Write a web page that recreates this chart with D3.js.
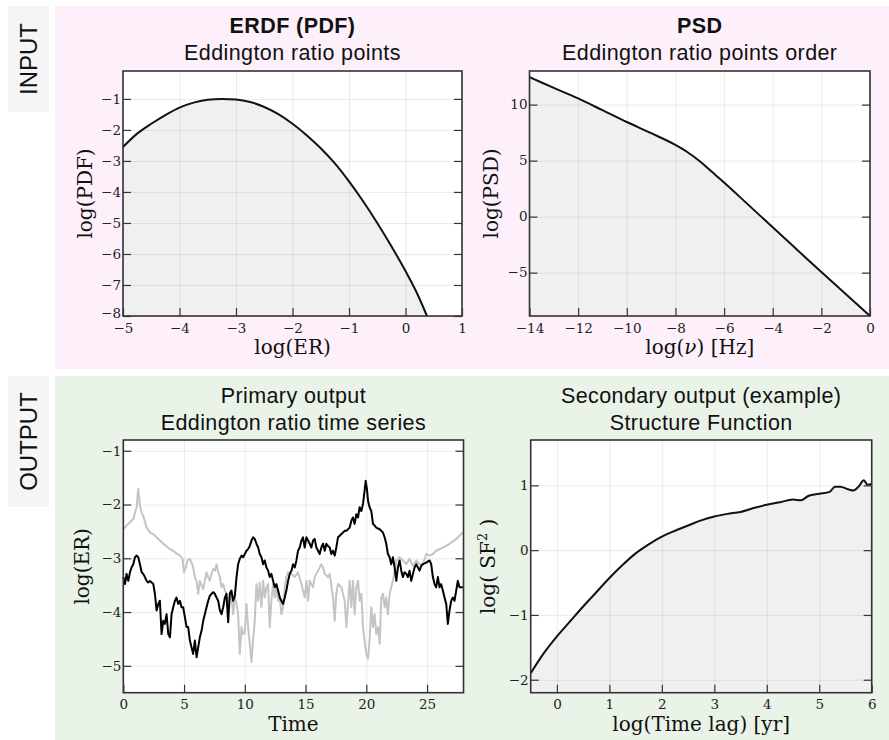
<!DOCTYPE html>
<html>
<head>
<meta charset="utf-8">
<script src="https://cdn.jsdelivr.net/npm/d3@7"></script>
<style>
  body { margin: 0; background: #fff; }
  svg { display: block; }
</style>
</head>
<body>
<div id="chart"></div>
<script>
// ERDF (PDF)
var erdfLogER  = [-5, -4.75, -4.5, -4.25, -4, -3.75, -3.5, -3.25, -3, -2.75, -2.5, -2.25, -2, -1.75, -1.5, -1.25, -1, -0.75, -0.5, -0.25, 0, 0.2, 0.38];
var erdfLogPDF = [-2.55, -2.12, -1.8, -1.52, -1.28, -1.12, -1.03, -1.0, -1.02, -1.1, -1.26, -1.49, -1.8, -2.17, -2.59, -3.08, -3.66, -4.3, -5.0, -5.75, -6.55, -7.25, -8.0];

// PSD
var psdLogNu  = [-14, -13, -12, -11, -10, -9, -8, -7.5, -7, -6.5, -6, -5, -4, -3, -2, -1, 0];
var psdLogPSD = [12.45, 11.5, 10.55, 9.5, 8.45, 7.45, 6.4, 5.75, 4.95, 4.0, 3.05, 1.05, -0.95, -2.95, -4.95, -6.9, -8.87];

// Eddington ratio time series: [time, log(ER)]
var seriesBlack = [[0,-3.35],[0.14,-3.48],[0.27,-3.29],[0.41,-3.42],[0.55,-3.26],[0.68,-3.17],[0.82,-3.11],[0.96,-2.98],[1.1,-2.95],[1.23,-2.98],
  [1.37,-3.11],[1.51,-3.26],[1.64,-3.29],[1.78,-3.35],[1.92,-3.42],[2.05,-3.45],[2.19,-3.42],[2.33,-3.45],[2.47,-3.48],[2.6,-3.66],
  [2.74,-3.97],[2.88,-3.85],[3.01,-3.79],[3.15,-4.41],[3.29,-4.16],[3.42,-4.22],[3.56,-4.04],[3.7,-4.41],[3.84,-4.47],[3.97,-4.04],
  [4.11,-3.91],[4.25,-3.79],[4.38,-3.73],[4.52,-3.85],[4.66,-3.79],[4.79,-3.91],[4.93,-3.91],[5.07,-4.1],[5.21,-4.28],[5.34,-4.28],
  [5.48,-4.53],[5.62,-4.66],[5.75,-4.78],[5.89,-4.53],[6.03,-4.84],[6.16,-4.66],[6.3,-4.47],[6.44,-4.35],[6.58,-4.16],[6.71,-4.04],
  [6.85,-3.91],[6.99,-3.79],[7.12,-3.7],[7.26,-3.66],[7.4,-3.63],[7.53,-3.66],[7.67,-3.73],[7.81,-3.79],[7.95,-3.97],[8.08,-4.04],
  [8.22,-3.91],[8.36,-3.73],[8.49,-3.66],[8.63,-4.19],[8.77,-3.66],[8.9,-3.6],[9.04,-3.79],[9.18,-3.7],[9.32,-3.35],[9.45,-3.11],
  [9.59,-3.01],[9.73,-2.95],[9.86,-2.98],[10.0,-2.92],[10.14,-2.86],[10.27,-2.83],[10.41,-2.77],[10.55,-2.67],[10.68,-2.61],[10.82,-2.64],
  [10.96,-2.73],[11.1,-2.8],[11.23,-2.92],[11.37,-2.98],[11.51,-3.11],[11.64,-3.04],[11.78,-3.17],[11.92,-3.23],[12.05,-3.35],[12.19,-3.29],
  [12.33,-3.42],[12.47,-3.54],[12.6,-3.48],[12.74,-3.6],[12.88,-3.73],[13.01,-3.79],[13.15,-3.85],[13.29,-3.73],[13.42,-3.6],[13.56,-3.42],
  [13.7,-3.29],[13.84,-3.23],[13.97,-3.11],[14.11,-3.17],[14.25,-3.04],[14.38,-2.86],[14.52,-2.8],[14.66,-2.67],[14.79,-2.61],[14.93,-2.8],
  [15.07,-2.61],[15.21,-2.67],[15.34,-2.73],[15.48,-2.8],[15.62,-2.67],[15.75,-2.64],[15.89,-2.8],[16.03,-2.86],[16.16,-2.92],[16.3,-2.8],
  [16.44,-2.73],[16.58,-2.86],[16.71,-2.73],[16.85,-2.77],[16.99,-2.8],[17.12,-2.92],[17.26,-2.86],[17.4,-2.95],[17.53,-2.8],[17.67,-2.61],
  [17.81,-2.58],[17.95,-2.55],[18.08,-2.52],[18.22,-2.49],[18.36,-2.49],[18.49,-2.46],[18.63,-2.43],[18.77,-2.3],[18.9,-2.24],[19.04,-2.36],
  [19.18,-2.18],[19.32,-2.24],[19.45,-2.05],[19.59,-2.12],[19.73,-1.99],[19.86,-1.74],[19.95,-1.56],[20.05,-1.71],[20.14,-1.93],[20.27,-2.05],
  [20.41,-2.12],[20.55,-2.36],[20.68,-2.39],[20.82,-2.43],[21.1,-2.46],[21.37,-2.52],[21.51,-2.61],[21.64,-2.73],[21.78,-2.92],[21.92,-2.98],
  [22.05,-3.11],[22.19,-2.98],[22.33,-3.17],[22.47,-3.42],[22.6,-3.17],[22.74,-3.04],[22.88,-3.23],[23.01,-3.35],[23.15,-3.26],[23.29,-3.29],
  [23.42,-3.35],[23.56,-3.23],[23.7,-3.42],[23.84,-3.29],[23.97,-3.17],[24.11,-3.11],[24.38,-3.23],[24.52,-3.14],[24.66,-3.11],[24.93,-3.08],
  [25.21,-3.04],[25.34,-3.11],[25.48,-3.35],[25.62,-3.48],[25.75,-3.54],[25.89,-3.35],[26.03,-3.54],[26.16,-3.48],[26.3,-3.6],[26.44,-3.73],
  [26.58,-3.85],[26.71,-4.22],[26.85,-3.97],[26.99,-3.79],[27.12,-3.73],[27.26,-3.79],[27.4,-3.6],[27.53,-3.42],[27.67,-3.54],[27.95,-3.54]];

var seriesGray = [[0,-2.46],[0.27,-2.39],[0.55,-2.33],[0.82,-2.27],[0.96,-2.15],[1.1,-2.05],[1.23,-1.71],[1.37,-2.02],[1.51,-2.15],[1.64,-2.21],
  [1.92,-2.43],[2.19,-2.52],[2.47,-2.55],[2.74,-2.61],[3.01,-2.67],[3.29,-2.73],[3.56,-2.78],[3.84,-2.83],[4.11,-2.86],[4.38,-2.91],
  [4.66,-2.95],[4.88,-3.01],[4.99,-3.26],[5.15,-3.17],[5.29,-3.04],[5.48,-3.01],[5.62,-3.08],[5.75,-3.17],[5.89,-3.35],[6.03,-3.42],
  [6.16,-3.66],[6.3,-3.42],[6.44,-3.51],[6.58,-3.57],[6.71,-3.42],[6.85,-3.26],[6.99,-3.35],[7.12,-3.42],[7.26,-3.29],[7.4,-3.2],
  [7.53,-3.23],[7.67,-3.11],[7.81,-3.26],[7.95,-3.35],[8.08,-3.54],[8.22,-3.48],[8.36,-3.6],[8.49,-3.66],[8.63,-3.97],[8.77,-3.63],
  [8.9,-3.7],[9.04,-4.04],[9.18,-3.73],[9.32,-3.85],[9.45,-4.04],[9.59,-4.78],[9.73,-4.28],[9.86,-4.41],[10.0,-4.38],[10.14,-3.85],
  [10.27,-4.28],[10.41,-4.59],[10.55,-4.93],[10.68,-4.53],[10.82,-4.16],[10.96,-3.48],[11.1,-3.79],[11.23,-3.45],[11.37,-3.91],[11.51,-3.42],
  [11.64,-3.73],[11.78,-3.54],[11.92,-3.48],[12.05,-4.28],[12.19,-3.79],[12.33,-3.48],[12.47,-3.73],[12.6,-3.54],[12.74,-3.79],[12.88,-3.73],
  [13.01,-4.04],[13.15,-3.91],[13.29,-3.54],[13.42,-3.35],[13.56,-3.26],[13.84,-3.29],[14.11,-3.35],[14.38,-3.26],[14.66,-3.48],[14.93,-3.73],
  [15.07,-3.42],[15.21,-3.79],[15.34,-3.42],[15.62,-3.54],[15.75,-3.35],[16.03,-3.23],[16.3,-3.11],[16.44,-3.17],[16.58,-3.29],[16.85,-3.35],
  [16.99,-3.29],[17.26,-3.73],[17.4,-4.16],[17.53,-3.66],[17.67,-3.48],[17.95,-3.54],[18.22,-3.79],[18.36,-4.28],[18.63,-3.42],[18.77,-3.91],
  [18.9,-3.42],[19.04,-4.04],[19.18,-3.54],[19.32,-3.42],[19.45,-3.79],[19.59,-3.66],[19.73,-4.28],[19.86,-4.53],[20.0,-4.78],[20.14,-4.87],
  [20.27,-4.53],[20.41,-3.91],[20.55,-4.28],[20.68,-4.04],[20.82,-4.41],[20.96,-4.28],[21.1,-4.59],[21.23,-3.73],[21.37,-3.66],[21.51,-3.91],
  [21.64,-3.73],[21.78,-4.04],[21.92,-3.66],[22.05,-3.54],[22.19,-3.42],[22.33,-3.23],[22.47,-3.04],[22.74,-2.98],[23.01,-3.04],[23.29,-3.11],
  [23.56,-3.01],[23.84,-3.14],[24.11,-3.04],[24.38,-3.11],[24.66,-3.11],[24.93,-2.92],[25.21,-2.95],[25.48,-2.92],[25.75,-2.86],[26.3,-2.8],
  [26.85,-2.73],[27.4,-2.64],[27.67,-2.58],[27.95,-2.52]];

// Structure function
var sfLogLag = [-0.5, -0.25, 0, 0.25, 0.5, 0.75, 1, 1.25, 1.5, 1.75, 2, 2.25, 2.5, 2.75, 3, 3.25, 3.5, 3.75, 4, 4.25, 4.5, 4.65, 4.8, 5, 5.2, 5.3, 5.4, 5.55, 5.65, 5.75, 5.85, 5.92, 6];
var sfLogSF2 = [-1.9, -1.59, -1.33, -1.1, -0.87, -0.65, -0.43, -0.23, -0.05, 0.09, 0.21, 0.3, 0.38, 0.46, 0.52, 0.56, 0.59, 0.65, 0.7, 0.74, 0.78, 0.77, 0.84, 0.87, 0.9, 0.98, 0.98, 0.94, 0.92, 0.98, 1.08, 1.01, 1.02];

// tick values
var erdfXTicks = [-5, -4, -3, -2, -1, 0, 1];
var erdfYTicks = [-8, -7, -6, -5, -4, -3, -2, -1];
var psdXTicks = [-14, -12, -10, -8, -6, -4, -2, 0];
var psdYTicks = [-5, 0, 5, 10];
var tsXTicks = [0, 5, 10, 15, 20, 25];
var tsYTicks = [-5, -4, -3, -2, -1];
var sfXTicks = [0, 1, 2, 3, 4, 5, 6];
var sfYTicks = [-2, -1, 0, 1];

var W = 889, H = 740;
var svg = d3.select("#chart").append("svg").attr("width", W).attr("height", H);

var sans = "'Liberation Sans', Arial, Helvetica, sans-serif";
var serif = "'DejaVu Serif', serif";

// section backgrounds
svg.append("rect").attr("x", 55).attr("y", 6).attr("width", W - 55).attr("height", 363).attr("fill", "#fdf0fb");
svg.append("rect").attr("x", 55).attr("y", 376).attr("width", W - 55).attr("height", H - 376).attr("fill", "#e9f3e7");

// side labels
function sideLabel(text, y0, y1) {
  svg.append("rect").attr("x", 8).attr("y", y0).attr("width", 41).attr("height", y1 - y0).attr("fill", "#f5f5f5");
  svg.append("text")
    .attr("transform", "translate(37," + ((y0 + y1) / 2) + ") rotate(-90)")
    .attr("text-anchor", "middle")
    .attr("font-family", sans).attr("font-size", 24).attr("fill", "#111")
    .text(text);
}
sideLabel("INPUT", 6, 112);
sideLabel("OUTPUT", 376, 507);

function panel(p) {
  var g = svg.append("g");
  var x = d3.scaleLinear().domain(p.xd).range([p.l, p.r]);
  var y = d3.scaleLinear().domain(p.yd).range([p.b, p.t]);
  var w = p.r - p.l, h = p.b - p.t;
  var curve = p.smooth ? d3.curveMonotoneX : d3.curveLinear;

  g.append("rect").attr("x", p.l).attr("y", p.t).attr("width", w).attr("height", h).attr("fill", "#fff");

  if (p.fill) {
    g.append("path").datum(p.fill)
      .attr("d", d3.area().curve(curve).x(function(d) { return x(d[0]); }).y0(p.b).y1(function(d) { return y(d[1]); }))
      .attr("fill", "#f0f0f0");
  }

  // grid
  g.append("g").attr("transform", "translate(0," + p.b + ")")
    .call(d3.axisBottom(x).tickValues(p.xt).tickSize(-h).tickFormat(""))
    .call(function(s) { s.select(".domain").remove(); s.selectAll("line").attr("stroke", "#000").attr("stroke-opacity", 0.08); });
  g.append("g").attr("transform", "translate(" + p.l + ",0)")
    .call(d3.axisLeft(y).tickValues(p.yt).tickSize(-w).tickFormat(""))
    .call(function(s) { s.select(".domain").remove(); s.selectAll("line").attr("stroke", "#000").attr("stroke-opacity", 0.08); });

  var line = d3.line().curve(curve).x(function(d) { return x(d[0]); }).y(function(d) { return y(d[1]); });
  p.lines.forEach(function(L) {
    g.append("path").datum(L.data).attr("d", line)
      .attr("fill", "none").attr("stroke", L.color).attr("stroke-width", L.width)
      .attr("stroke-linejoin", "round");
  });

  // axes with inward ticks
  var fmt = d3.format("d");
  function style(s) {
    s.select(".domain").remove();
    s.selectAll("line").attr("stroke", "#333").attr("stroke-width", 1.2);
    s.selectAll("text").attr("font-family", serif).attr("font-size", 13.5).attr("fill", "#222");
  }
  g.append("g").attr("transform", "translate(0," + p.b + ")")
    .call(d3.axisBottom(x).tickValues(p.xt).tickSize(-8).tickPadding(7).tickFormat(fmt)).call(style);
  g.append("g").attr("transform", "translate(" + p.l + ",0)")
    .call(d3.axisLeft(y).tickValues(p.yt).tickSize(-8).tickPadding(2).tickFormat(fmt)).call(style)
    .call(function(s) { s.selectAll("text").filter(function(d) { return y(d) > p.b - 4; }).attr("dy", "0.1em"); });
  g.append("g").attr("transform", "translate(" + p.r + ",0)")
    .call(d3.axisRight(y).tickValues(p.yt).tickSize(-8).tickFormat("")).call(style);

  g.append("rect").attr("x", p.l).attr("y", p.t).attr("width", w).attr("height", h)
    .attr("fill", "none").attr("stroke", "#333").attr("stroke-width", 1.6);

  // titles
  var cx = (p.l + p.r) / 2;
  p.titles.forEach(function(T) {
    g.append("text").attr("x", cx).attr("y", T.y).attr("text-anchor", "middle")
      .attr("font-family", sans).attr("font-size", 21.5).attr("letter-spacing", 0.4)
      .attr("font-weight", T.bold ? "bold" : "normal")
      .attr("fill", "#111").text(T.text);
  });

  // axis labels
  var xl = g.append("text").attr("x", cx).attr("y", p.b + 38).attr("text-anchor", "middle")
    .attr("font-family", serif).attr("font-size", 20).attr("fill", "#111");
  p.xlabel(xl);
  var yl = g.append("text")
    .attr("transform", "translate(" + (p.l - p.ylOff) + "," + ((p.t + p.b) / 2) + ") rotate(-90)")
    .attr("text-anchor", "middle").attr("font-family", serif).attr("font-size", 20).attr("fill", "#111");
  p.ylabel(yl);
}

panel({
  l: 123, r: 462, t: 71, b: 316, xd: [-5, 1], yd: [-8, -0.1], smooth: true,
  xt: erdfXTicks, yt: erdfYTicks,
  fill: d3.zip(erdfLogER, erdfLogPDF),
  lines: [{ data: d3.zip(erdfLogER, erdfLogPDF), color: "#111", width: 2 }],
  titles: [{ text: "ERDF (PDF)", y: 33, bold: true }, { text: "Eddington ratio points", y: 60 }],
  xlabel: function(t) { t.text("log(ER)"); },
  ylabel: function(t) { t.text("log(PDF)"); }, ylOff: 31
});

panel({
  l: 529.5, r: 870, t: 71, b: 316, xd: [-14, 0], yd: [-8.87, 13.0], smooth: true,
  xt: psdXTicks, yt: psdYTicks,
  fill: d3.zip(psdLogNu, psdLogPSD),
  lines: [{ data: d3.zip(psdLogNu, psdLogPSD), color: "#111", width: 2 }],
  titles: [{ text: "PSD", y: 33, bold: true }, { text: "Eddington ratio points order", y: 60 }],
  xlabel: function(t) { t.text("log("); t.append("tspan").attr("font-style", "italic").text("\u03bd"); t.append("tspan").text(") [Hz]"); },
  ylabel: function(t) { t.text("log(PSD)"); }, ylOff: 32
});

panel({
  l: 123.3, r: 463.5, t: 440, b: 692.7, xd: [0, 28], yd: [-5.5, -0.8],
  xt: tsXTicks, yt: tsYTicks,
  fill: null,
  lines: [{ data: seriesGray, color: "#c4c4c4", width: 2 }, { data: seriesBlack, color: "#000", width: 2 }],
  titles: [{ text: "Primary output", y: 403 }, { text: "Eddington ratio time series", y: 430 }],
  xlabel: function(t) { t.text("Time"); },
  ylabel: function(t) { t.text("log(ER)"); }, ylOff: 34
});

panel({
  l: 530.7, r: 871.7, t: 440, b: 692.7, xd: [-0.5, 6], yd: [-2.2, 1.7], smooth: true,
  xt: sfXTicks, yt: sfYTicks,
  fill: d3.zip(sfLogLag, sfLogSF2),
  lines: [{ data: d3.zip(sfLogLag, sfLogSF2), color: "#111", width: 2 }],
  titles: [{ text: "Secondary output (example)", y: 403 }, { text: "Structure Function", y: 430 }],
  xlabel: function(t) { t.text("log(Time lag) [yr]"); },
  ylabel: function(t) {
    t.text("log( SF");
    t.append("tspan").attr("font-size", 13).attr("dy", -8).text("2");
    t.append("tspan").attr("dy", 8).text(" )");
  }, ylOff: 36
});
</script>
</body>
</html>
